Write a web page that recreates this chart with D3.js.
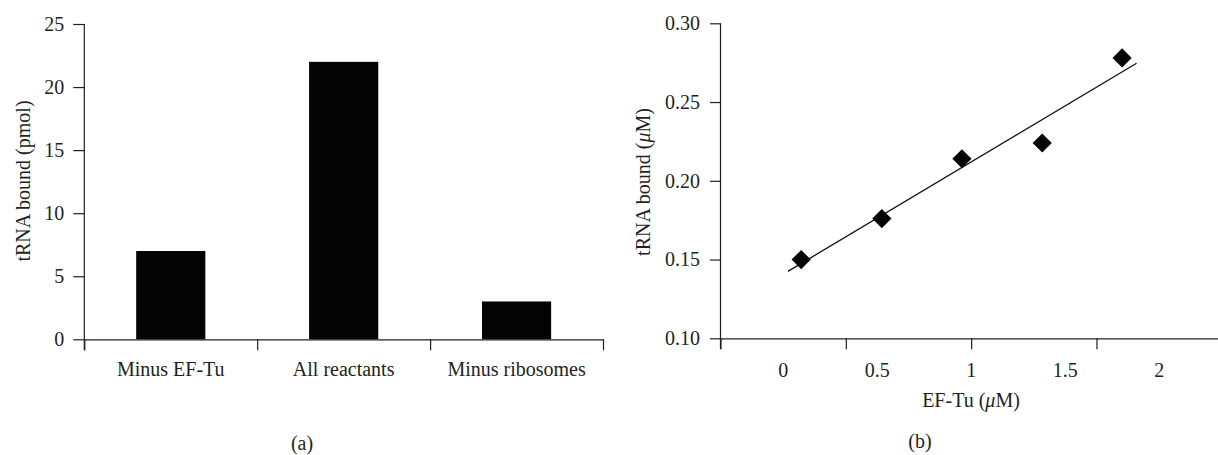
<!DOCTYPE html>
<html>
<head>
<meta charset="utf-8">
<script src="https://cdn.jsdelivr.net/npm/d3@7"></script>
<style>
  html, body { margin: 0; padding: 0; background: #fff; }
  svg { display: block; }
  text { font-family: "Liberation Serif", "Times New Roman", serif; fill: #231f20; }
</style>
</head>
<body>
<svg id="chart" width="1218" height="455"></svg>
<script>
// ---- Panel (a) data ----
const categories = ["Minus EF-Tu", "All reactants", "Minus ribosomes"];
const boundPmol = [7, 22, 3];
const leftYTicks = [0, 5, 10, 15, 20, 25];

// ---- Panel (b) data ----
const efTuConc = [0.096, 0.525, 0.951, 1.378, 1.803];
const tRNABoundUM = [0.150, 0.176, 0.214, 0.224, 0.278];
const rightYTicks = [0.10, 0.15, 0.20, 0.25, 0.30];
const rightXLabels = [0, 0.5, 1, 1.5, 2];
const rightXTickMarks = [-1/3, 1/3, 1, 5/3];
const fitRange = [0.025, 1.88];

const svg = d3.select("#chart");
const FS = 20;
const axisColor = "#231f20";

function styleAxis(g) {
  g.selectAll("path.domain").attr("stroke", axisColor).attr("stroke-width", 1.2);
  g.selectAll(".tick line").attr("stroke", axisColor).attr("stroke-width", 1.2);
  g.selectAll("text").attr("font-size", FS).attr("font-family", "Liberation Serif").attr("fill", "#231f20");
}

// ================= Panel (a) =================
(function () {
  const x0 = 84.3, x1 = 603, yTop = 24, yBot = 339.3;
  const xBand = d3.scaleBand().domain(categories).range([x0, x1]).paddingInner(0.6).paddingOuter(0.3);
  const y = d3.scaleLinear().domain([0, 25]).range([yBot, yTop]);
  const xIdx = d3.scaleLinear().domain([0, categories.length]).range([x0, x1]);

  // bars
  svg.append("g").selectAll("rect").data(categories).join("rect")
    .attr("x", d => xBand(d))
    .attr("width", xBand.bandwidth())
    .attr("y", (d, i) => y(boundPmol[i]))
    .attr("height", (d, i) => y(0) - y(boundPmol[i]))
    .attr("fill", "#040404");

  // y axis
  const gy = svg.append("g").attr("transform", `translate(${x0},0)`)
    .call(d3.axisLeft(y).tickValues(leftYTicks).tickFormat(d3.format("d")).tickSize(11).tickPadding(9).tickSizeOuter(0));
  styleAxis(gy);
  gy.select("path.domain").attr("d", `M0,${yTop}V${yBot + 11}`);

  // x axis: tick marks at category boundaries
  const gx = svg.append("g").attr("transform", `translate(0,${yBot})`)
    .call(d3.axisBottom(xIdx).tickValues(d3.range(categories.length + 1)).tickFormat("").tickSize(11).tickSizeOuter(0));
  styleAxis(gx);

  // category labels
  const gl = svg.append("g").attr("transform", `translate(0,${yBot})`)
    .call(d3.axisBottom(xBand).tickSize(0).tickSizeOuter(0));
  gl.select("path.domain").remove();
  gl.selectAll("text").attr("font-size", FS).attr("y", 36.7).attr("dy", 0).attr("fill", "#231f20");

  // y title
  svg.append("text")
    .attr("transform", `translate(29.5,181) rotate(-90)`)
    .attr("text-anchor", "middle").attr("font-size", FS)
    .text("tRNA bound (pmol)");

  // caption
  svg.append("text").attr("x", 302).attr("y", 450).attr("text-anchor", "middle")
    .attr("font-size", FS).text("(a)");
})();

// ================= Panel (b) =================
(function () {
  const yTop = 23.3, yBot = 338.3;
  const x = d3.scaleLinear().domain([-1/3, 7/3]).range([720.5, 1221.8]);
  const y = d3.scaleLinear().domain([0.10, 0.30]).range([yBot, yTop]);

  // y axis
  const gy = svg.append("g").attr("transform", `translate(${x(-1/3)},0)`)
    .call(d3.axisLeft(y).tickValues(rightYTicks).tickFormat(d3.format(".2f")).tickSize(10.5).tickPadding(10).tickSizeOuter(0));
  styleAxis(gy);
  gy.select("path.domain").attr("d", `M0,${yTop}V${yBot + 11}`);

  // x axis marks
  const gx = svg.append("g").attr("transform", `translate(0,${yBot})`)
    .call(d3.axisBottom(x).tickValues(rightXTickMarks).tickFormat("").tickSize(11).tickSizeOuter(0));
  styleAxis(gx);

  // x labels (between marks)
  svg.append("g").selectAll("text").data(rightXLabels).join("text")
    .attr("x", d => x(d)).attr("y", yBot + 38.7)
    .attr("text-anchor", "middle").attr("font-size", FS)
    .text(d => d3.format("")(d));

  // regression line from the data
  const n = efTuConc.length;
  const mx = d3.mean(efTuConc), my = d3.mean(tRNABoundUM);
  let sxy = 0, sxx = 0;
  for (let i = 0; i < n; i++) {
    sxy += (efTuConc[i] - mx) * (tRNABoundUM[i] - my);
    sxx += (efTuConc[i] - mx) ** 2;
  }
  const slope = sxy / sxx, icpt = my - slope * mx;
  svg.append("path")
    .datum(fitRange.map(v => [v, icpt + slope * v]))
    .attr("d", d3.line().x(d => x(d[0])).y(d => y(d[1])))
    .attr("fill", "none").attr("stroke", "#111").attr("stroke-width", 1.3);

  // diamond markers
  const sym = d3.symbol().type(d3.symbolSquare).size(185);
  svg.append("g").selectAll("path").data(efTuConc).join("path")
    .attr("d", sym)
    .attr("transform", (d, i) => `translate(${x(d)},${y(tRNABoundUM[i])}) rotate(45)`)
    .attr("fill", "#040404");

  // y title
  const yt = svg.append("text")
    .attr("transform", `translate(649.5,182) rotate(-90)`)
    .attr("text-anchor", "middle").attr("font-size", FS);
  yt.append("tspan").text("tRNA bound (");
  yt.append("tspan").attr("font-style", "italic").text("μ");
  yt.append("tspan").text("M)");

  // x title
  const xt = svg.append("text").attr("x", 971).attr("y", 407)
    .attr("text-anchor", "middle").attr("font-size", FS);
  xt.append("tspan").text("EF-Tu (");
  xt.append("tspan").attr("font-style", "italic").text("μ");
  xt.append("tspan").text("M)");

  // caption
  svg.append("text").attr("x", 920).attr("y", 448).attr("text-anchor", "middle")
    .attr("font-size", FS).text("(b)");
})();
</script>
</body>
</html>
